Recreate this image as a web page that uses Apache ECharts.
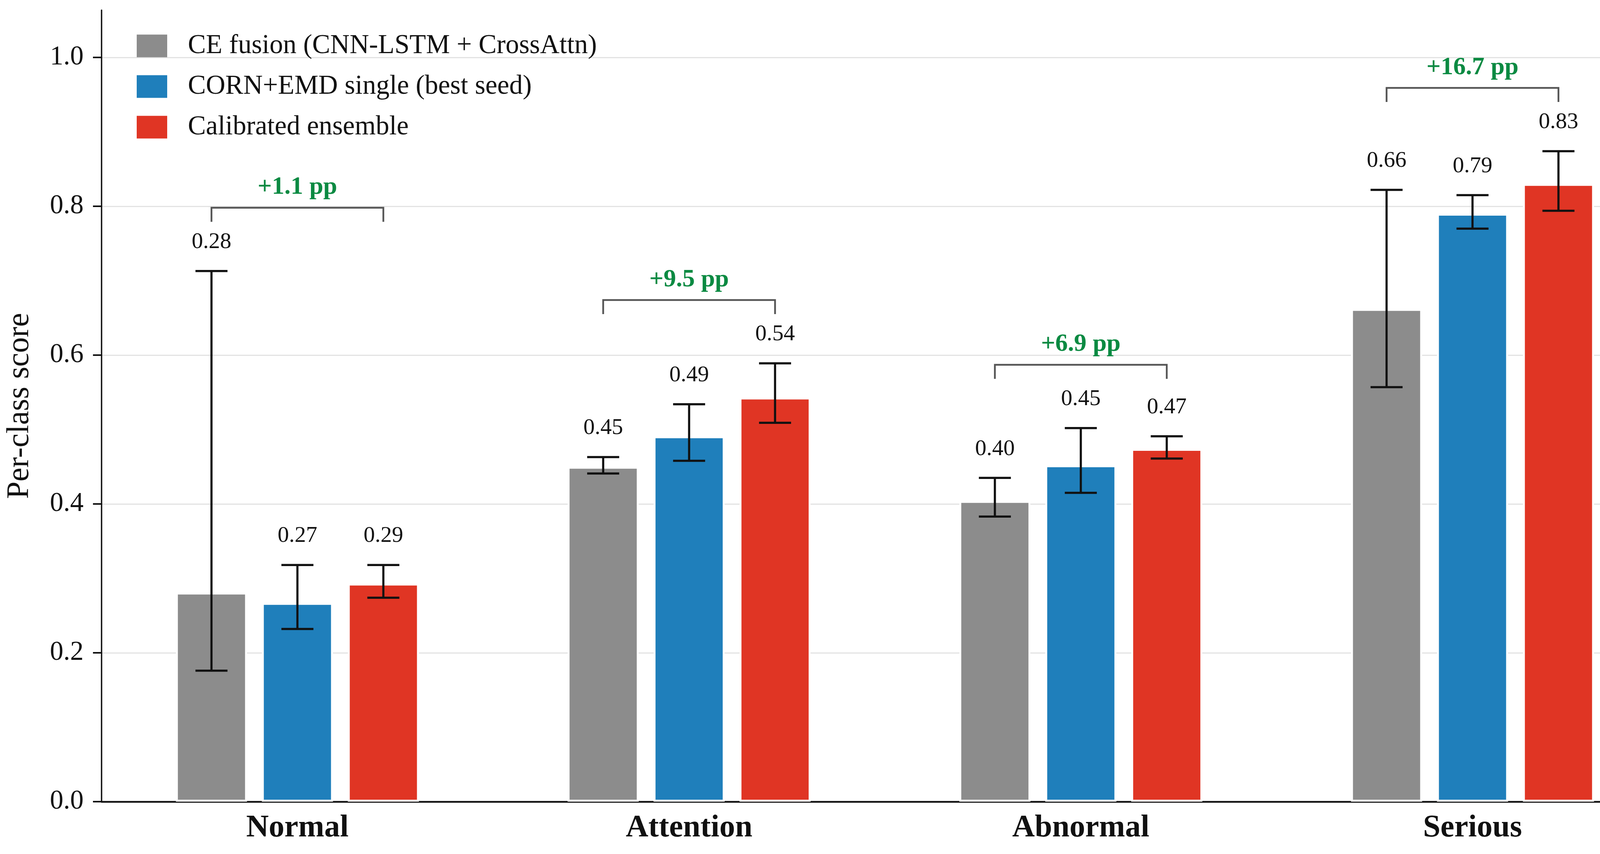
<!doctype html>
<html>
<head>
<meta charset="utf-8">
<title>Per-class score</title>
<script src="https://cdn.jsdelivr.net/npm/echarts@6/dist/echarts.min.js"></script>
<style>
    html, body { margin: 0; padding: 0; background: #fff; }
    #main { width: 4299px; height: 2186px; }
</style>
</head>
<body>
<div id="main"></div>
<script type="text/javascript">
    // categories and series
    var categories = ['Normal', 'Attention', 'Abnormal', 'Serious'];
    var seriesNames = ['CE fusion (CNN-LSTM + CrossAttn)', 'CORN+EMD single (best seed)', 'Calibrated ensemble'];

    // mean scores
    var ceFusion = [0.281, 0.450, 0.404, 0.662];
    var cornEmd = [0.267, 0.491, 0.452, 0.790];
    var ensemble = [0.293, 0.543, 0.474, 0.830];

    // error bar bounds (low / high)
    var ceLow = [0.176, 0.441, 0.383, 0.557];
    var ceHigh = [0.713, 0.463, 0.435, 0.822];
    var cornLow = [0.232, 0.458, 0.415, 0.770];
    var cornHigh = [0.318, 0.534, 0.502, 0.815];
    var ensLow = [0.274, 0.509, 0.461, 0.794];
    var ensHigh = [0.318, 0.589, 0.491, 0.874];

    // gain of ensemble over CE fusion
    var gains = ['+1.1 pp', '+9.5 pp', '+6.9 pp', '+16.7 pp'];

    var yTicks = [0, 0.2, 0.4, 0.6, 0.8, 1.0];

    var colors = ['#8c8c8c', '#1f7fbb', '#e03524'];
    var serif = '"Liberation Serif", "Times New Roman", serif';

    var means = [ceFusion, cornEmd, ensemble];
    var lows = [ceLow, cornLow, ensLow];
    var highs = [ceHigh, cornHigh, ensHigh];

    var step = 220;     // px between bar centres in a group

    function errorItem(shift) {
        return function (params, api) {
            var i = api.value(0);
            var top = api.coord([i, api.value(2)]);
            var bot = api.coord([i, api.value(1)]);
            var x = top[0] + shift;
            var half = 41;
            var st = { stroke: '#111', lineWidth: 5.5 };
            return {
                type: 'group',
                children: [
                    { type: 'line', shape: { x1: x, y1: top[1], x2: x, y2: bot[1] }, style: st },
                    { type: 'line', shape: { x1: x - half, y1: top[1], x2: x + half, y2: top[1] }, style: st },
                    { type: 'line', shape: { x1: x - half, y1: bot[1], x2: x + half, y2: bot[1] }, style: st },
                    {
                        type: 'text', x: x, y: top[1] - 74,
                        style: {
                            text: api.value(3).toFixed(2), fill: '#111',
                            font: '58px ' + serif, align: 'center', verticalAlign: 'middle'
                        }
                    }
                ]
            };
        };
    }

    function bracketItem(params, api) {
        var i = api.value(0);
        var p = api.coord([i, api.value(1)]);
        var x1 = p[0] - step, x2 = p[0] + step, y = p[1];
        return {
            type: 'group',
            children: [
                {
                    type: 'polyline',
                    shape: { points: [[x1, y + 36], [x1, y], [x2, y], [x2, y + 36]] },
                    style: { stroke: '#555', lineWidth: 4.5, fill: null }
                },
                {
                    type: 'text', x: p[0], y: y - 52,
                    style: {
                        text: gains[i], fill: '#0b8a42',
                        font: 'bold 64px ' + serif, align: 'center', verticalAlign: 'middle'
                    }
                }
            ]
        };
    }

    var series = [];
    for (var s = 0; s < 3; s++) {
        series.push({
            name: seriesNames[s],
            type: 'bar',
            data: means[s],
            barWidth: 182,
            barGap: '20.9%',
            itemStyle: { color: colors[s], borderColor: '#fff', borderWidth: 5 },
            z: 2
        });
    }
    for (var s = 0; s < 3; s++) {
        var errData = [];
        for (var i = 0; i < categories.length; i++) {
            errData.push([i, lows[s][i], highs[s][i], means[s][i]]);
        }
        series.push({
            type: 'custom',
            renderItem: errorItem((s - 1) * step),
            data: errData,
            encode: { x: 0, y: [1, 2] },
            z: 5,
            silent: true
        });
    }
    var bracketData = [];
    for (var i = 0; i < categories.length; i++) {
        var hi = Math.max(ceHigh[i], cornHigh[i], ensHigh[i]);
        bracketData.push([i, hi + 0.085]);
    }
    series.push({
        type: 'custom',
        renderItem: bracketItem,
        data: bracketData,
        encode: { x: 0, y: 1 },
        z: 5,
        silent: true
    });

    var dom = document.getElementById('main');
    var myChart = echarts.init(dom, null, { renderer: 'canvas' });
    var option = {
        backgroundColor: '#fff',
        animation: false,
        textStyle: { fontFamily: serif },
        grid: { left: 260, right: 28, top: 26, bottom: 134 },
        legend: {
            data: seriesNames,
            orient: 'vertical',
            left: 345,
            top: 78,
            itemWidth: 78,
            itemHeight: 58,
            itemGap: 35,
            icon: 'rect',
            itemStyle: { borderWidth: 0 },
            textStyle: {
                fontFamily: serif, fontSize: 69, color: '#111',
                padding: [0, 0, 0, 48]
            }
        },
        xAxis: {
            type: 'category',
            data: categories,
            axisLine: { lineStyle: { color: '#111', width: 4.5 } },
            axisTick: { alignWithLabel: true, length: 18, lineStyle: { color: '#111', width: 3 } },
            axisLabel: { fontFamily: serif, fontSize: 80, fontWeight: 'bold', color: '#111', margin: 28 },
            splitLine: { show: false }
        },
        yAxis: {
            type: 'value',
            min: yTicks[0],
            max: 1.0635,
            interval: 0.2,
            name: 'Per-class score',
            nameLocation: 'middle',
            nameGap: 169,
            nameTextStyle: { fontFamily: serif, fontSize: 80, color: '#111' },
            axisLine: { show: true, lineStyle: { color: '#111', width: 3.5 } },
            axisTick: { show: true, length: 22, customValues: yTicks, lineStyle: { color: '#111', width: 4 } },
            axisLabel: {
                fontFamily: serif, fontSize: 69, color: '#111', margin: 46,
                customValues: yTicks,
                formatter: function (v) { return v.toFixed(1); }
            },
            splitLine: { show: true, lineStyle: { color: '#e3e3e3', width: 3 } }
        },
        series: series
    };
    myChart.setOption(option);
</script>
</body>
</html>
